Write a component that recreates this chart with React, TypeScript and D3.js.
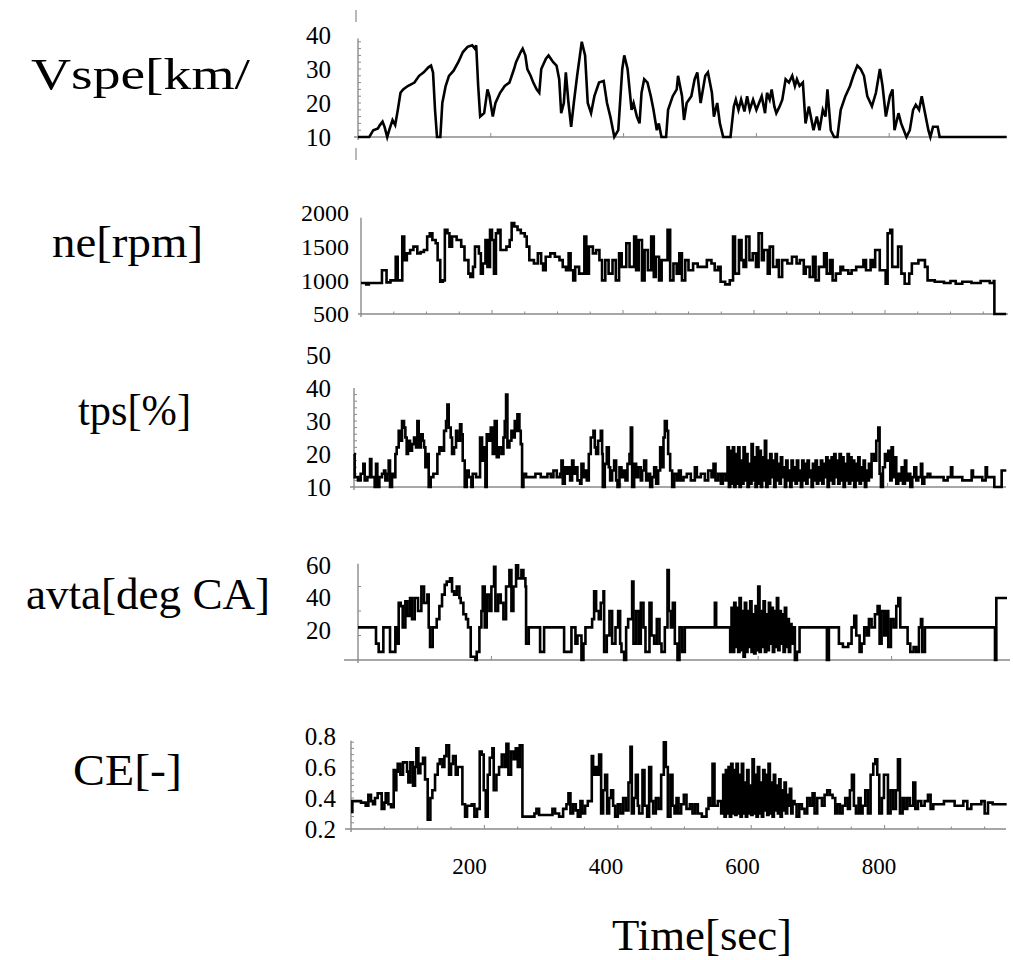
import React from 'react';
import * as d3 from 'd3';

// ---------------- DATA ----------------
const vspeData: [number, number][] = [
[0,10],[17,10],[23,12],[30,12.5],[33,13.5],[37,14.5],[40,13],[44,10],[47,12],[52,15],[56,13.5],[60,18],[64,23],[68,24],[75,25],[85,26],[92,28],[99,29],[106,30.5],[110,31],[113,29],[116,18],[119,10],[124,10],[127,20],[132,25],[137,28],[144,29.5],[151,32],[158,35],[165,36.5],[172,37],[176,36],[178,37],[181,25],[184,16],[190,17],[195,24],[198,22],[203,16],[207,20],[214,23],[221,25],[228,26],[235,30],[238,32],[245,35],[248,36],[252,34],[255,30],[260,28],[264,26],[269,24],[273,23],[276,30],[283,33],[287,34],[294,32],[299,31],[303,27],[306,17],[310,20],[313,29],[317,20],[321,13],[325,20],[330,28],[337,38],[342,34],[346,20],[351,17],[356,22],[363,26],[370,26.5],[375,20],[380,16],[386,10],[392,12],[398,30],[401,34],[406,30],[412,18],[415,20],[420,16],[424,14],[427,23],[431,27],[436,26],[441,22],[445,18],[450,12],[453,14],[457,10],[464,10],[467,18],[474,22],[480,24],[482,28],[488,22],[491,15],[495,20],[502,22],[507,27],[511,29],[516,20],[523,28],[527,29],[533,23],[536,16],[541,20],[545,14],[550,10],[561,10],[566,19],[569,21],[573,18],[577,21],[582,17.5],[586,22],[590,18],[595,21],[600,18],[604,20],[608,22],[613,17],[616,23],[620,21],[623,24],[627,19],[630,17],[635,19],[639,21],[644,27],[649,26],[654,28],[658,25],[661,27],[665,25],[670,26],[674,14],[679,19],[686,12],[691,16],[695,12],[700,18],[704,16],[707,24],[712,12],[717,10],[722,10],[727,18],[734,22],[741,25],[746,28],[752,31],[757,30],[762,28],[767,22],[774,19],[780,23],[786,30],[790,25],[795,16],[801,22],[805,24],[808,12],[814,17],[818,14],[822,12],[826,10],[831,12],[836,18],[840,19.5],[845,18],[849,22],[854,17],[859,12],[862,10],[866,13],[873,13],[876,10],[977,10]
];

const neData: [number, number][] = [
[0,960],[8,940],[12,960],[32,1150],[39,970],[45,1000],[53,1350],[56,1000],[60,1000],[63,1650],[66,1300],[70,1400],[75,1450],[80,1500],[86,1400],[91,1420],[96,1450],[101,1650],[105,1700],[109,1600],[114,1550],[117,1300],[121,980],[125,1000],[128,1750],[132,1700],[135,1500],[139,1650],[146,1600],[153,1500],[158,1300],[164,1100],[167,1050],[171,1200],[174,1500],[180,1400],[183,1100],[186,1250],[190,1600],[193,1200],[197,1750],[200,1600],[203,1100],[206,1700],[209,1750],[213,1450],[222,1500],[227,1600],[230,1850],[234,1800],[239,1750],[244,1700],[250,1650],[253,1500],[257,1300],[264,1250],[270,1400],[275,1250],[278,1150],[282,1350],[289,1400],[296,1350],[303,1300],[308,1200],[313,1150],[317,1400],[320,1150],[324,1000],[327,1200],[333,1100],[341,1650],[344,1100],[348,1500],[354,1400],[359,1450],[364,1300],[368,1000],[373,1300],[378,1100],[384,1300],[389,1000],[394,1400],[398,1200],[405,1550],[410,1200],[417,1650],[420,1150],[424,1600],[429,1000],[433,1450],[438,1150],[443,1650],[447,1050],[450,1350],[455,1000],[459,1300],[468,1750],[472,1000],[477,1250],[482,1100],[486,1400],[490,1000],[495,1300],[500,1150],[507,1250],[514,1200],[521,1200],[528,1300],[535,1250],[540,1150],[545,1200],[549,980],[556,940],[563,1000],[568,1650],[571,1100],[577,1600],[581,1300],[584,1200],[588,1650],[593,1300],[598,1400],[603,1200],[607,1700],[612,1300],[615,1450],[621,1100],[624,1500],[629,1200],[635,1300],[638,1050],[643,1300],[651,1250],[658,1350],[665,1250],[670,1300],[676,1100],[679,1200],[685,1050],[690,1350],[694,1000],[699,1200],[707,1400],[711,1100],[716,1300],[720,1000],[725,1100],[732,1200],[736,1150],[744,1100],[749,1150],[756,1200],[767,1300],[771,1150],[778,1300],[781,1200],[785,1450],[792,1150],[801,950],[804,1700],[808,1750],[811,1200],[820,1500],[825,1100],[830,950],[837,1100],[841,1250],[851,1300],[861,1200],[865,1000],[876,980],[890,960],[900,990],[908,950],[918,980],[932,960],[946,990],[960,960],[966,990],[967,500],[985,500]
];

const tpsData: [number, number][] = [
[0,20],[1,13],[6,12],[10,14],[14,17],[16,12],[20,13],[24,18.5],[26,13],[31,10],[33,17],[35,10],[38,13],[42,14],[45,15],[47,12],[50,14],[52,18],[54,10],[57,14],[59,13],[62,20],[64,22],[67,27],[69,24],[72,30],[75,28],[77,25],[79,20],[81,24],[84,21],[87,23],[90,25],[93,22],[95,30],[97,22],[100,26],[103,24],[105,22],[107,16],[109,20],[112,10],[115,13],[119,14],[123,14],[125,20],[128,22],[131,21],[135,27],[138,30],[140,35],[142,28],[145,25],[147,20],[150,22],[153,27],[155,24],[159,29],[161,26],[163,18],[166,10],[169,15],[172,13],[176,10],[178,14],[183,13],[187,13],[189,25],[192,18],[195,22],[197,10],[199,26],[202,24],[205,28],[208,20],[211,30],[214,19],[217,22],[221,20],[224,25],[226,30],[228,38],[230,22],[233,24],[236,27],[238,25],[241,30],[243,27],[245,32],[248,27],[250,23],[252,10],[254,14],[258,13],[266,13],[272,14],[280,13],[290,14],[295,13],[299,15],[304,13],[309,14],[311,18],[313,11],[316,16],[318,14],[321,16],[324,12],[327,18],[329,14],[332,16],[335,12],[339,11],[341,17],[344,13],[346,15],[349,12],[352,20],[355,25],[359,27],[361,22],[363,20],[366,24],[370,27],[372,20],[373,10],[376,17],[379,22],[382,16],[384,12],[387,15],[390,18],[393,12],[395,10],[398,16],[401,13],[404,15],[407,12],[410,17],[413,20],[415,28],[417,10],[420,17],[423,13],[426,16],[430,12],[432,15],[435,18],[438,12],[441,14],[444,10],[447,13],[450,16],[453,11],[456,15],[459,22],[462,16],[464,25],[466,30],[469,27],[471,20],[474,15],[477,10],[480,14],[484,12],[487,15],[490,12],[494,13],[499,14],[505,12],[511,16],[514,13],[520,14],[526,12],[531,15],[536,13],[539,17],[542,12],[546,14],[550,11],[553,14],[557,12],
[560,22],[562,10],[564,21],[566,11],[568,22],[570,10],[572,20],[574,11],[576,22],[578,10],[580,18],[582,11],[584,22],[586,12],[588,20],[590,10],[592,17],[594,11],[596,23],[598,12],[600,19],[602,10],[604,22],[606,11],[608,21],[610,10],[612,19],[614,12],[616,24],[618,10],[620,18],[622,11],[624,20],[626,13],[628,18],[630,10],[632,20],[634,12],[636,17],[638,11],[640,19],[642,13],[644,16],[646,10],[648,18],[650,12],[652,15],[654,10],[656,18],[658,12],[660,16],[662,11],[664,18],[666,12],[668,15],[670,10],[672,18],[674,12],[676,17],[678,11],[680,18],[682,13],[684,15],[686,10],[688,17],[690,12],[692,18],[694,11],[696,16],[698,12],[700,18],[702,11],[704,17],[706,13],[708,19],[710,10],[712,18],[714,12],[716,19],[718,11],[720,20],[722,13],[724,18],[726,11],[728,20],[730,12],[732,19],[734,10],[736,17],[738,12],[740,20],[742,11],[744,19],[746,12],[748,18],[750,10],[752,17],[754,12],[756,19],[758,11],[760,16],[762,12],[764,18],[766,10],[768,15],[770,12],[772,17],[774,13],
[776,20],[780,18],[783,24],[786,28],[788,14],[790,10],[793,16],[796,20],[798,18],[801,21],[804,12],[806,22],[808,13],[811,19],[813,11],[816,14],[818,12],[821,16],[823,11],[826,18],[828,12],[831,14],[834,10],[837,13],[840,16],[843,12],[846,13],[850,17],[852,11],[855,13],[860,14],[864,13],[870,13],[878,13],[884,12],[890,13],[895,16],[897,13],[905,13],[912,12],[920,12],[926,15],[928,13],[935,13],[942,12],[947,16],[949,13],[955,13],[960,10],[965,10],[971,15],[978,15]
];

const avtaData: [number, number][] = [
[0,20],[26,20],[27,10],[31,5],[36,5],[38,20],[47,20],[48,5],[54,5],[56,20],[58,10],[61,35],[64,33],[67,20],[71,36],[74,27],[78,38],[81,25],[85,38],[90,30],[95,45],[99,35],[104,40],[106,20],[108,8],[112,20],[118,25],[122,33],[126,40],[130,46],[133,48],[138,50],[141,42],[144,40],[148,45],[152,38],[154,35],[158,28],[162,25],[165,20],[169,2],[176,0],[178,5],[182,20],[185,30],[187,45],[190,20],[193,40],[197,30],[200,45],[204,57],[206,30],[210,40],[214,35],[218,25],[222,45],[227,55],[230,30],[233,45],[237,58],[240,50],[245,55],[248,50],[251,45],[252,10],[256,20],[272,20],[273,5],[278,5],[279,20],[308,20],[309,5],[316,5],[320,20],[326,10],[329,15],[335,0],[338,10],[341,20],[351,25],[354,42],[357,30],[361,25],[364,35],[368,42],[369,5],[373,15],[377,30],[381,10],[386,20],[390,30],[393,10],[395,5],[399,0],[402,20],[405,25],[411,48],[413,10],[417,30],[421,10],[424,35],[428,20],[431,5],[437,35],[440,15],[444,10],[448,25],[452,10],[455,5],[460,20],[464,55],[466,30],[469,20],[472,35],[475,10],[479,0],[482,20],[486,5],[490,20],[497,20],[503,20],[534,20],[535,35],[537,20],[557,20],
[558,5],[560,32],[562,5],[564,35],[566,8],[568,32],[570,5],[572,38],[574,6],[576,30],[578,2],[580,35],[582,5],[584,30],[586,8],[588,36],[590,5],[592,28],[594,4],[596,33],[598,6],[600,45],[602,5],[604,30],[606,8],[608,36],[610,5],[612,28],[614,6],[616,35],[618,10],[620,32],[622,5],[624,30],[626,8],[628,38],[630,6],[632,30],[634,10],[636,28],[638,5],[640,32],[642,8],[644,25],[646,5],[648,22],[650,10],[652,20],
[655,0],[658,5],[662,20],[700,20],[703,0],[706,20],[718,20],[721,10],[727,8],[735,10],[740,20],[744,27],[747,15],[752,5],[755,10],[759,20],[763,15],[766,25],[770,20],[775,28],[779,33],[782,10],[785,30],[789,15],[792,30],[795,8],[799,25],[803,20],[807,33],[810,38],[813,20],[822,20],[824,10],[828,5],[833,8],[837,5],[841,20],[844,25],[846,5],[850,20],[954,20],[955,0],[957,38],[973,38]
];

const ceData: [number, number][] = [
[0,0.31],[2,0.38],[10,0.38],[15,0.37],[22,0.35],[26,0.42],[30,0.38],[33,0.36],[36,0.40],[40,0.43],[43,0.43],[46,0.33],[50,0.37],[52,0.43],[56,0.36],[60,0.34],[64,0.58],[66,0.45],[68,0.57],[70,0.62],[74,0.55],[78,0.63],[84,0.57],[86,0.50],[89,0.63],[93,0.48],[96,0.60],[98,0.72],[101,0.56],[104,0.62],[108,0.66],[111,0.52],[115,0.26],[119,0.40],[122,0.45],[126,0.55],[130,0.62],[133,0.65],[137,0.60],[140,0.67],[143,0.74],[147,0.55],[150,0.62],[153,0.67],[157,0.55],[160,0.60],[164,0.60],[167,0.36],[171,0.28],[174,0.35],[181,0.36],[185,0.28],[189,0.33],[193,0.70],[196,0.68],[199,0.45],[202,0.28],[205,0.55],[208,0.66],[212,0.72],[214,0.45],[218,0.55],[222,0.60],[226,0.68],[230,0.60],[233,0.75],[236,0.55],[240,0.70],[244,0.65],[247,0.72],[250,0.60],[253,0.74],[257,0.28],[266,0.28],[275,0.30],[278,0.33],[282,0.29],[290,0.29],[299,0.29],[302,0.33],[306,0.30],[312,0.28],[318,0.33],[323,0.36],[326,0.43],[329,0.30],[333,0.36],[337,0.32],[340,0.28],[344,0.38],[347,0.30],[351,0.35],[355,0.38],[361,0.67],[363,0.55],[366,0.60],[369,0.55],[372,0.68],[375,0.30],[378,0.45],[381,0.55],[384,0.30],[387,0.40],[390,0.45],[393,0.35],[396,0.28],[400,0.36],[404,0.30],[408,0.40],[412,0.32],[416,0.50],[419,0.73],[421,0.30],[424,0.40],[427,0.55],[430,0.35],[432,0.30],[437,0.58],[440,0.35],[444,0.28],[447,0.60],[450,0.38],[453,0.30],[457,0.40],[461,0.33],[465,0.55],[469,0.76],[472,0.60],[475,0.28],[479,0.55],[482,0.35],[485,0.30],[488,0.40],[491,0.30],[495,0.36],[499,0.42],[503,0.33],[508,0.36],[512,0.30],[516,0.36],[520,0.30],[526,0.28],[530,0.28],[533,0.33],[536,0.40],[538,0.35],[542,0.62],[545,0.35],[550,0.38],[555,0.30],
[558,0.55],[560,0.28],[562,0.58],[564,0.30],[566,0.60],[568,0.28],[570,0.62],[572,0.30],[574,0.58],[576,0.29],[578,0.62],[580,0.30],[582,0.55],[584,0.28],[586,0.62],[588,0.30],[590,0.50],[592,0.28],[594,0.58],[596,0.30],[598,0.48],[600,0.29],[602,0.65],[604,0.30],[606,0.55],[608,0.28],[610,0.60],[612,0.30],[614,0.50],[616,0.28],[618,0.58],[620,0.32],[622,0.55],[624,0.29],[626,0.62],[628,0.30],[630,0.50],[632,0.28],[634,0.55],[636,0.32],[638,0.48],[640,0.30],[642,0.52],[644,0.28],[646,0.45],[648,0.32],[650,0.50],[652,0.30],[654,0.42],[656,0.35],[658,0.46],[660,0.30],[662,0.38],[665,0.36],
[668,0.28],[672,0.36],[676,0.33],[680,0.30],[684,0.40],[688,0.35],[692,0.43],[695,0.30],[699,0.40],[703,0.40],[706,0.35],[710,0.42],[714,0.45],[718,0.42],[722,0.40],[726,0.30],[729,0.36],[733,0.30],[737,0.35],[741,0.40],[745,0.33],[748,0.45],[751,0.55],[754,0.35],[757,0.30],[761,0.40],[764,0.30],[767,0.35],[771,0.45],[775,0.30],[779,0.55],[783,0.62],[786,0.65],[789,0.55],[792,0.30],[796,0.40],[799,0.55],[803,0.55],[805,0.30],[809,0.45],[813,0.33],[817,0.45],[820,0.65],[823,0.30],[827,0.40],[830,0.33],[834,0.40],[838,0.35],[843,0.50],[846,0.33],[850,0.38],[855,0.35],[860,0.38],[865,0.42],[869,0.33],[873,0.36],[880,0.36],[889,0.38],[898,0.38],[905,0.35],[912,0.35],[918,0.38],[924,0.33],[930,0.36],[938,0.36],[945,0.38],[950,0.30],[955,0.37],[962,0.36],[983,0.36]
];

const vspeTicks = [10, 20, 30, 40];
const neTicks = [500, 1000, 1500, 2000];
const tpsTicks = [10, 20, 30, 40, 50];
const avtaTicks = [20, 40, 60];
const ceTicks = [0.2, 0.4, 0.6, 0.8];
const timeTicks = [200, 400, 600, 800];
const titles = ['Vspe[km/', 'ne[rpm]', 'tps[%]', 'avta[deg CA]', 'CE[-]'];
const xTitle = 'Time[sec]';

// ---------------- LAYOUT ----------------
const FONT = 'Liberation Serif';
const GRAY = '#8a8a8a';

type Panel = {
  title: string; data: [number, number][]; step: boolean;
  x0: number; k: number; yDomain: [number, number]; yRange: [number, number];
  ticks: number[]; fmt: (v: number) => string; axisTop: number; tickFont: number;
  labelRight: number; labelDy: number; baseLeft: number; baseRight: number;
  titleX: number; titleY: number; titleW: number; minor: number | null; xMinor: boolean;
};

const panels: Panel[] = [
  { title: titles[0], data: vspeData, step: false, x0: 358, k: 0.664, yDomain: [10, 40], yRange: [137, 35],
    ticks: vspeTicks, fmt: d3.format('d'), axisTop: 39, tickFont: 25, labelRight: 331, labelDy: 0,
    baseLeft: 354, baseRight: 1006, titleX: 31, titleY: 89, titleW: 219, minor: 2, xMinor: false },
  { title: titles[1], data: neData, step: true, x0: 361, k: 0.655, yDomain: [500, 2000], yRange: [314, 213],
    ticks: neTicks, fmt: d3.format('d'), axisTop: 1930, tickFont: 24, labelRight: 349, labelDy: 0,
    baseLeft: 358, baseRight: 1008, titleX: 52, titleY: 257, titleW: 151, minor: null, xMinor: true },
  { title: titles[2], data: tpsData, step: true, x0: 354, k: 0.667, yDomain: [10, 50], yRange: [487, 355],
    ticks: tpsTicks, fmt: d3.format('d'), axisTop: 40, tickFont: 25, labelRight: 331, labelDy: 0,
    baseLeft: 350, baseRight: 1006, titleX: 78, titleY: 425, titleW: 113, minor: 2, xMinor: false },
  { title: titles[3], data: avtaData, step: true, x0: 358, k: 0.667, yDomain: [0, 60], yRange: [660, 562],
    ticks: avtaTicks, fmt: d3.format('d'), axisTop: 59, tickFont: 25, labelRight: 331, labelDy: 3,
    baseLeft: 344, baseRight: 1010, titleX: 26, titleY: 609, titleW: 244, minor: 15, xMinor: false },
  { title: titles[4], data: ceData, step: true, x0: 351, k: 0.667, yDomain: [0.2, 0.8], yRange: [829, 736],
    ticks: ceTicks, fmt: d3.format('.1f'), axisTop: 0.77, tickFont: 25, labelRight: 336, labelDy: 0,
    baseLeft: 345, baseRight: 1006, titleX: 73, titleY: 785, titleW: 109, minor: 0.04, xMinor: true },
];

const labelScale = d3.scaleLinear().domain([0, 1000]).range([333, 1015.5]);

function PanelView({ p }: { p: Panel }) {
  const x = d3.scaleLinear().domain([0, 1000]).range([p.x0, p.x0 + 1000 * p.k]);
  const y = d3.scaleLinear().domain(p.yDomain).range(p.yRange);
  const line = d3.line<[number, number]>()
    .x(d => x(d[0])).y(d => y(d[1]))
    .curve(p.step ? d3.curveStepAfter : d3.curveLinear);
  const yBase = y(p.yDomain[0]);
  const minorTicks = p.minor ? d3.range(p.yDomain[0] + p.minor, p.axisTop, p.minor) : [];
  const xMinorTicks = p.xMinor ? d3.range(50, 1000, 50).filter(t => x(t) < p.baseRight - 2) : timeTicks;
  return (
    <g>
      <text x={p.titleX} y={p.titleY} style={{ fontFamily: FONT }} fontSize={44} textLength={p.titleW}
        lengthAdjust="spacingAndGlyphs" fill="#000">{p.title}</text>
      {p.ticks.map(t => (
        <text key={t} x={p.labelRight} y={y(t) + p.labelDy} dy="0.35em" textAnchor="end"
          style={{ fontFamily: FONT }} fontSize={p.tickFont} fill="#000">{p.fmt(t)}</text>
      ))}
      <line x1={p.baseLeft} x2={p.baseRight} y1={yBase} y2={yBase} stroke={GRAY} strokeWidth={1.6} />
      <line x1={x(0)} x2={x(0)} y1={y(p.axisTop)} y2={yBase + 3} stroke={GRAY} strokeWidth={1.4} />
      {minorTicks.map((t, i) => (
        <line key={'m' + i} x1={x(0)} x2={x(0) + 3} y1={y(t)} y2={y(t)} stroke={GRAY} strokeWidth={1} />
      ))}
      {xMinorTicks.map((t, i) => (
        <line key={'x' + i} x1={x(t)} x2={x(t)} y1={yBase} y2={yBase - (t % 200 === 0 ? 4 : 2.5)}
          stroke={GRAY} strokeWidth={1} />
      ))}
      <path d={line(p.data) || ''} fill="none" stroke="#000" strokeWidth={2.6} strokeLinejoin="miter" />
    </g>
  );
}

export default function App() {
  return (
    <svg width={1013} height={960} viewBox="0 0 1013 960"
      style={{ position: 'absolute', left: 0, top: 0, background: '#fff' }}>
      <rect width={1013} height={960} fill="#fff" />
      {/* stray scan marks around the first panel */}
      <line x1={356} x2={356} y1={10} y2={22} stroke={GRAY} strokeWidth={1.2} />
      <line x1={356} x2={356} y1={148} y2={160} stroke={GRAY} strokeWidth={1.2} />
      {panels.map((p, i) => <PanelView key={i} p={p} />)}
      {timeTicks.map(t => (
        <text key={t} x={labelScale(t)} y={866} dy="0.35em" textAnchor="middle"
          style={{ fontFamily: FONT }} fontSize={23} fill="#000">{t}</text>
      ))}
      <text x={612} y={950} style={{ fontFamily: FONT }} fontSize={44} textLength={180}
        lengthAdjust="spacingAndGlyphs" fill="#000">{xTitle}</text>
    </svg>
  );
}
